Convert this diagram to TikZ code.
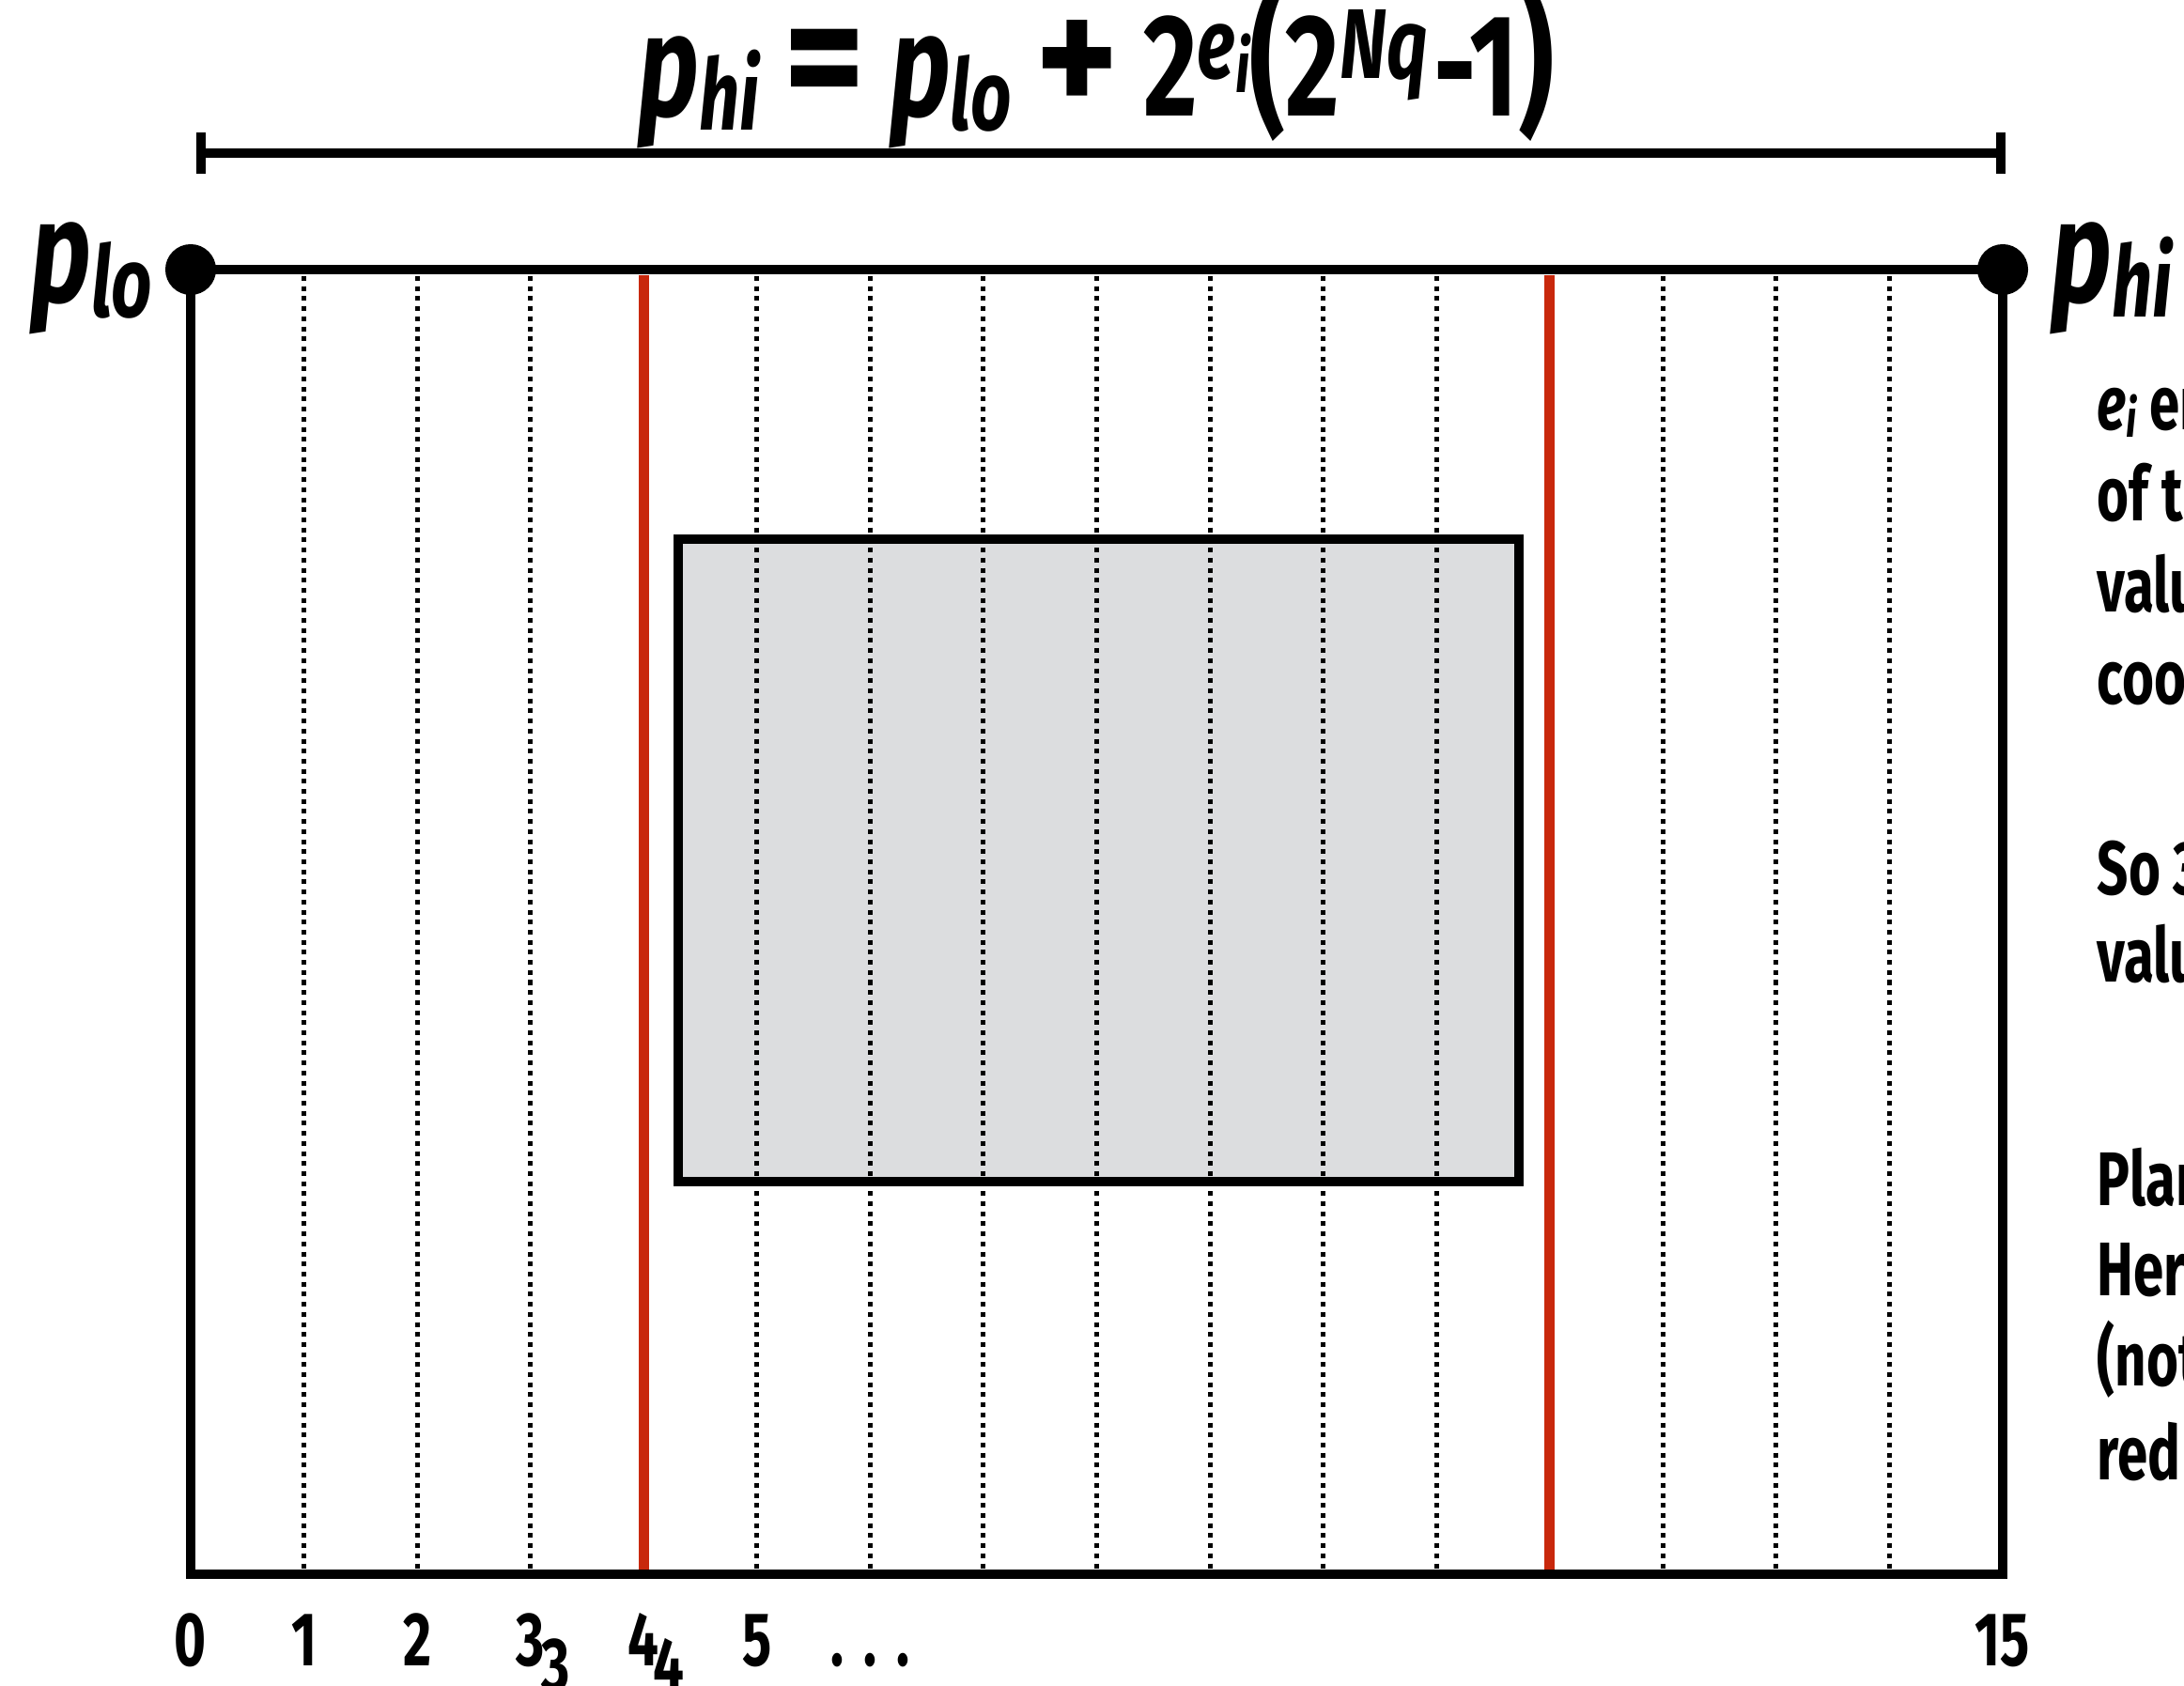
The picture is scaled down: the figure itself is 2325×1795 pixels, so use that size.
\documentclass[tikz,border=0pt]{standalone}
\usepackage{fontspec}
\setmainfont{Fira Sans}[FakeStretch=0.72]
\usetikzlibrary{arrows.meta,positioning}
\definecolor{gridred}{HTML}{C8280C}
\definecolor{boxgray}{HTML}{DCDDDF}

\newcommand{\bigsz}{\fontsize{44}{44}\selectfont}
\newcommand{\midsz}{\fontsize{30}{30}\selectfont}
\newcommand{\smsz}{\fontsize{22}{22}\selectfont}
\newcommand{\lowtx}[1]{\raisebox{-0.15cm}{\midsz\itshape #1}}
\newcommand{\hightx}[1]{\raisebox{0.4cm}{\midsz #1}}
\newcommand{\tallpar}[1]{\scalebox{1.05}[1.1]{#1}}
\newcommand{\wideop}[1]{\scalebox{1.5}[1.2]{#1}}

\begin{document}
\begin{tikzpicture}[
    x=0.01cm,y=-0.01cm,
    frame/.style={line width=0.1cm},
    grid/.style={line width=0.05cm,dash pattern=on 0.05cm off 0.057cm},
    redline/.style={gridred,line width=0.11cm},
    dot/.style={circle,fill=black,inner sep=0pt,minimum size=0.54cm},
    lbl/.style={font=\bfseries\bigsz,inner sep=0pt},
    num/.style={font=\bfseries\fontsize{23}{23}\selectfont,inner sep=0pt,anchor=base},
    note/.style={font=\bfseries\fontsize{23}{23}\selectfont,inner sep=0pt,anchor=base west}
]
\useasboundingbox (0,0) rectangle (2325,1795);

% formula and the span it measures
\node[lbl,anchor=base] (eq) at (1167,124)
  {{\itshape p}\lowtx{hi}\,\wideop{=}\,{\itshape p}\lowtx{lo}\,\wideop{+}\,2\hightx{\itshape e\raisebox{-0.15cm}{\smsz i}}\tallpar{(}2\hightx{\itshape Nq}\kern2pt-1\tallpar{)}};
\coordinate (dl) at (209,163);
\coordinate (dr) at (2135,163);
\draw[frame,{Bar[width=0.44cm]}-{Bar[width=0.44cm]}] (dl) -- (dr);

% grey box underneath the grid
\draw[frame,fill=boxgray] (722,574) rectangle (1617,1258);

% grid lines, red ones at 4 and 12
\foreach \i in {1,2,3,5,6,...,11,13,14,15}
  \draw[grid] ({203+\i*120.56},294) -- ({203+\i*120.56},1672);
\foreach \i in {4,12}
  \draw[redline] ({203+\i*120.56},293) -- ({203+\i*120.56},1672);

% outer frame between the two end points
\node[dot] (plo) at (203,287) {};
\node[dot] (phi) at (2132,287) {};
\coordinate (bl) at (203,1676);
\coordinate (br) at (2132,1676);
\draw[frame] (plo.center) -- (bl) -- (br) -- (phi.center) -- cycle;

\node[lbl,anchor=base east] (plolbl) at (163,322) {{\itshape p}\lowtx{lo}};
\node[lbl,anchor=base west] (philbl) at (2183,322) {{\itshape p}\lowtx{hi}};

% numbers under the axis
\foreach \i in {0,...,5}
  \node[num] (n\i) at ({203+\i*120.56},1773) {\i};
\node[num] (n6) at ({203+6*120.56},1773) {.\hspace{6pt}.\hspace{6pt}.};
\node[num] (n16) at (2132,1773) {15};
\node[num] (s3) at ({203+3*120.56+27},1800) {3};
\node[num] (s4) at ({203+4*120.56+27},1800) {4};

% notes on the right, cut by the edge
\node[note] (t1) at (2232,458) {{\itshape e\raisebox{-0.08cm}{\fontsize{16}{16}\selectfont i}} encodes};
\node[note] (t2) at (2232,555) {of the};
\node[note] (t3) at (2232,652) {value};
\node[note] (t4) at (2232,749) {coordinate};
\node[note] (t5) at (2232,952) {So 3};
\node[note] (t6) at (2232,1045) {values};
\node[note] (t7) at (2232,1283) {Plane};
\node[note] (t8) at (2232,1379) {Here};
\node[note] (t9) at (2232,1475) {(not};
\node[note] (t10) at (2232,1575) {red};
\end{tikzpicture}
\end{document}
